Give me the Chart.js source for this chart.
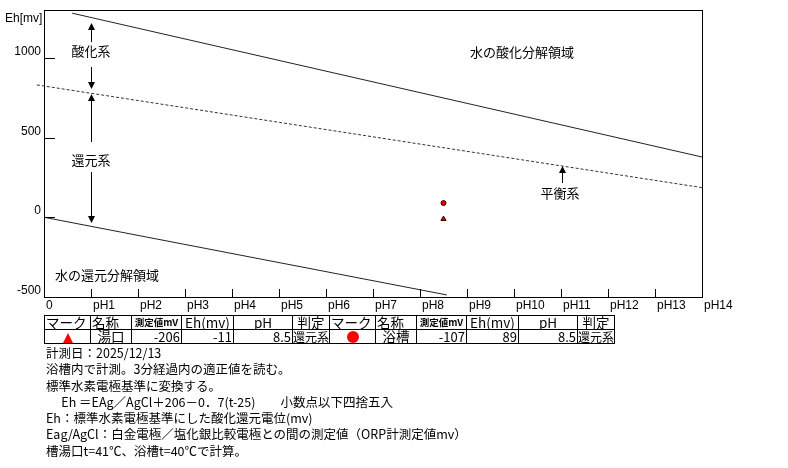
<!DOCTYPE html>
<html>
<head>
<meta charset="utf-8">
<script src="https://cdn.jsdelivr.net/npm/chart.js@4.4.0/dist/chart.umd.min.js"></script>
<style>
body { margin:0; background:#fff; width:788px; height:468px; overflow:hidden; position:relative; font-family:"Noto Sans CJK JP", sans-serif; }
#grafico { position:absolute; left:0; top:0; }
#tabla { position:absolute; left:44px; top:315px; width:571px; border-collapse:collapse; table-layout:fixed; font-size:13.5px; color:#000; }
#tabla td { border:1px solid #000; padding:0; height:13px; line-height:13px; white-space:nowrap; overflow:hidden; }
#tabla .chico { font-size:9.5px; font-weight:bold; text-align:center; }
#tabla .cen { text-align:center; }
#tabla .der { text-align:right; padding-right:1px; font-size:13px; }
#tabla .izq { text-align:left; padding-left:1px; }
#tabla .juicio { text-align:left; font-size:12px; }
.tri { display:inline-block; width:0; height:0; border-left:5px solid transparent; border-right:5px solid transparent; border-bottom:10px solid #f00; vertical-align:-1px; }
.cir { display:inline-block; width:12px; height:12px; border-radius:50%; background:#f00; vertical-align:-1px; }
#notas { position:absolute; left:46px; top:345px; font-size:12.5px; line-height:16.3px; white-space:pre; color:#000; }
</style>
</head>
<body>
<canvas id="grafico" width="788" height="468"></canvas>
<table id="tabla"></table>
<div id="notas"></div>
<script>
// datos del grafico Eh-pH
var xLabels = ['0', 'pH1', 'pH2', 'pH3', 'pH4', 'pH5', 'pH6', 'pH7', 'pH8', 'pH9', 'pH10', 'pH11', 'pH12', 'pH13', 'pH14'];
var yTicks = [-500, 0, 500, 1000];

// lineas de descomposicion del agua y de equilibrio
var oxidoPh = [0.6, 14];
var oxidoEh = [1280, 378];
var equilPh = [-0.15, 14];
var equilEh = [830, 186];
var reducPh = [0, 8.57];
var reducEh = [0, -487];

// muestras
var nombres = ['湯口', '浴槽'];
var medidos = [-206, -107];
var ehMuestra = [-11, 89];
var phMuestra = [8.5, 8.5];
var juicios = ['還元系', '還元系'];
var marcas = ['triangle', 'circle'];

var cabecera = ['マーク', '名称', '測定値mV', 'Eh(mv)', 'pH', '判定'];
var notas = [
    '計測日：2025/12/13',
    '浴槽内で計測。3分経過内の適正値を読む。',
    '標準水素電極基準に変換する。',
    '　 Eh ＝EAg／AgCl＋206－0．7(t-25)　　小数点以下四捨五入',
    'Eh：標準水素電極基準にした酸化還元電位(mv)',
    'Eag/AgCl：白金電極／塩化銀比較電極との間の測定値（ORP計測定値mv）',
    '槽湯口t=41℃、浴槽t=40℃で計算。'
];

function puntos(xs, ys) {
    var r = [];
    for (var i = 0; i < xs.length; i++) r.push({x: xs[i], y: ys[i]});
    return r;
}

// flechas y textos del grafico
var dibujoExtra = {
    id: 'dibujoExtra',
    afterDatasetsDraw: function(chart) {
        var ctx = chart.ctx;
        var a = chart.chartArea;
        var sx = chart.scales.x, sy = chart.scales.y;
        function px(v) { return Math.round(sx.getPixelForValue(v)); }
        function py(v) { return Math.round(sy.getPixelForValue(v)); }
        ctx.save();
        ctx.strokeStyle = '#000';
        ctx.fillStyle = '#000';
        ctx.lineWidth = 1;
        ctx.strokeRect(a.left + 0.5, a.top + 0.5, a.right - a.left, a.bottom - a.top);

        // marcas del eje x
        ctx.beginPath();
        for (var i = 1; i < xLabels.length - 1; i++) {
            var x = px(i) + 0.5;
            ctx.moveTo(x, a.bottom);
            ctx.lineTo(x, a.bottom - 8);
        }
        // marcas del eje y
        for (var j = 0; j < yTicks.length; j++) {
            var y = py(yTicks[j]) + 0.5;
            ctx.moveTo(a.left, y);
            ctx.lineTo(a.left + 11, y);
        }
        ctx.stroke();

        ctx.font = '12px "Liberation Sans", Arial, sans-serif';
        ctx.textBaseline = 'middle';
        ctx.textAlign = 'left';
        for (var i = 0; i < xLabels.length; i++) {
            ctx.fillText(xLabels[i], px(i) + 2, a.bottom + 9);
        }
        ctx.textAlign = 'right';
        for (var j = 0; j < yTicks.length; j++) {
            ctx.fillText(String(yTicks[j]), a.left - 3, py(yTicks[j]) - 6);
        }
        ctx.textAlign = 'left';
        ctx.fillText('Eh[mv]', 5, 19);

        // textos de zonas
        ctx.font = '13px "Noto Sans CJK JP", sans-serif';
        ctx.fillText('水の酸化分解領域', px(9.06), py(1037));
        ctx.fillText('水の還元分解領域', px(0.23), py(-362));
        ctx.textAlign = 'center';
        ctx.fillText('酸化系', px(1), py(1043));
        ctx.fillText('還元系', px(1), py(360));
        ctx.fillText('平衡系', px(10.98), py(153));

        function flecha(ph, desde, hasta) {
            var x = px(ph) + 0.5;
            var y0 = py(desde), y1 = py(hasta);
            var dir = y1 < y0 ? 1 : -1;
            ctx.beginPath();
            ctx.moveTo(x, y0);
            ctx.lineTo(x, y1 + dir * 5);
            ctx.stroke();
            ctx.beginPath();
            ctx.moveTo(x, y1);
            ctx.lineTo(x - 3.5, y1 + dir * 7);
            ctx.lineTo(x + 3.5, y1 + dir * 7);
            ctx.closePath();
            ctx.fill();
        }
        flecha(1, 1099, 1218);
        flecha(1, 943, 805);
        flecha(1, 472, 773);
        flecha(1, 284, -36);
        flecha(11.02, 215, 322);
        ctx.restore();
    }
};

var canvas = document.getElementById('grafico').getContext('2d');
window.grafico = new Chart(canvas, {
    type: 'scatter',
    data: {
        datasets: [
            {
                data: puntos(oxidoPh, oxidoEh),
                showLine: true,
                borderColor: '#222',
                borderWidth: 1,
                pointRadius: 0
            },
            {
                data: puntos(equilPh, equilEh),
                showLine: true,
                borderColor: '#333',
                borderWidth: 1,
                borderDash: [3, 2],
                pointRadius: 0,
                clip: false
            },
            {
                data: puntos(reducPh, reducEh),
                showLine: true,
                borderColor: '#222',
                borderWidth: 1,
                pointRadius: 0
            },
            {
                data: puntos(phMuestra, ehMuestra),
                showLine: false,
                pointStyle: marcas,
                pointRadius: [3, 2.5],
                backgroundColor: '#e00000',
                borderColor: '#400000',
                borderWidth: 1
            }
        ]
    },
    options: {
        responsive: false,
        animation: false,
        devicePixelRatio: 1,
        layout: { padding: { left: 44, top: 10, right: 86, bottom: 171 } },
        plugins: { legend: { display: false }, tooltip: { enabled: false } },
        scales: {
            x: { type: 'linear', min: 0, max: 14, display: false },
            y: { type: 'linear', min: -500, max: 1300, display: false }
        }
    },
    plugins: [dibujoExtra]
});

// tabla de resultados
var anchos = [46, 41, 50, 52, 59, 37];
var tabla = document.getElementById('tabla');
var html = '<colgroup>';
for (var k = 0; k < 2; k++) {
    for (var c = 0; c < anchos.length; c++) html += '<col style="width:' + anchos[c] + 'px">';
}
html += '</colgroup><tr>';
for (var k = 0; k < 2; k++) {
    html += '<td class="izq">' + cabecera[0] + '</td><td class="izq">' + cabecera[1] + '</td>';
    html += '<td class="chico">' + cabecera[2] + '</td><td class="cen">' + cabecera[3] + '</td>';
    html += '<td class="cen">' + cabecera[4] + '</td><td class="cen">' + cabecera[5] + '</td>';
}
html += '</tr><tr>';
for (var k = 0; k < 2; k++) {
    var signo = marcas[k] === 'triangle' ? '<span class="tri"></span>' : '<span class="cir"></span>';
    html += '<td class="cen">' + signo + '</td><td class="cen">' + nombres[k] + '</td>';
    html += '<td class="der">' + medidos[k] + '</td><td class="der">' + ehMuestra[k] + '</td>';
    html += '<td class="der">' + phMuestra[k] + '</td><td class="juicio">' + juicios[k] + '</td>';
}
html += '</tr>';
tabla.innerHTML = html;

document.getElementById('notas').textContent = notas.join('\n');
</script>
</body>
</html>
